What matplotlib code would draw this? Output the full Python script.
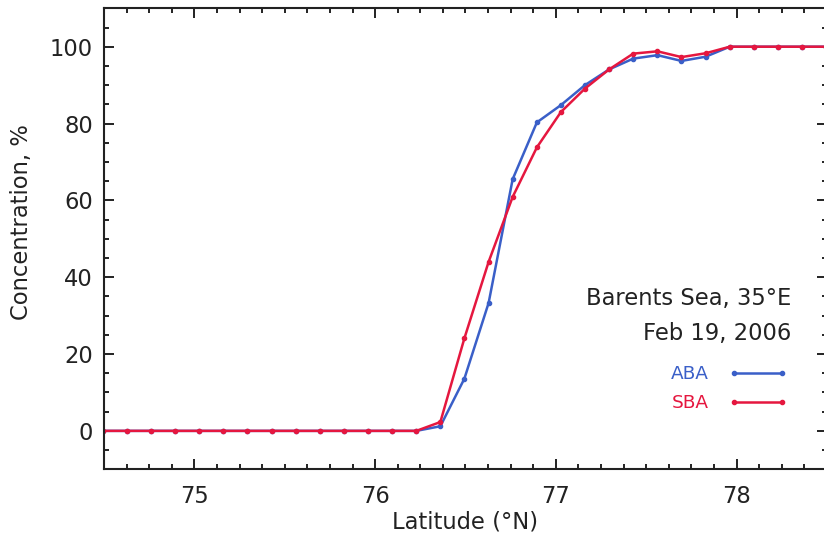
import matplotlib
matplotlib.use("Agg")
import matplotlib.pyplot as plt
from matplotlib.ticker import MultipleLocator

latitude = [74.493, 74.627, 74.760, 74.893, 75.027, 75.160, 75.294, 75.427,
            75.560, 75.694, 75.827, 75.961, 76.094, 76.228, 76.361, 76.494,
            76.628, 76.761, 76.895, 77.028, 77.161, 77.295, 77.428, 77.562,
            77.695, 77.829, 77.962, 78.095, 78.229, 78.362, 78.496]
aba = [0, 0, 0, 0, 0, 0, 0, 0, 0, 0, 0, 0, 0, 0, 1.2, 13.6,
       33.3, 65.5, 80.3, 84.8, 90.0, 94.1, 96.9, 97.8, 96.3, 97.4,
       100, 100, 100, 100, 100]
sba = [0, 0, 0, 0, 0, 0, 0, 0, 0, 0, 0, 0, 0, 0, 2.3, 24.1,
       44.0, 60.9, 73.8, 83.0, 89.1, 94.1, 98.2, 98.8, 97.3, 98.3,
       100, 100, 100, 100, 100]
series_labels = ["ABA", "SBA"]
series_colors = ["#3a5fc8", "#e5173f"]
x_ticks = [75, 76, 77, 78]
y_ticks = [0, 20, 40, 60, 80, 100]

plt.rcParams['font.family'] = ['DejaVu Sans']
fig = plt.figure(figsize=(8.24, 5.46), dpi=100)
ax = fig.add_axes([0.1262, 0.1405, 0.8774, 0.8443])

for ys, lab, col in zip([aba, sba], series_labels, series_colors):
    ax.plot(latitude, ys, color=col, lw=1.8, marker='o', ms=3.0,
            label=lab, clip_on=True)

ax.set_xlim(74.5, 78.5)
ax.set_ylim(-10, 110)
ax.set_xticks(x_ticks)
ax.set_yticks(y_ticks)
ax.xaxis.set_minor_locator(MultipleLocator(0.125))
ax.yaxis.set_minor_locator(MultipleLocator(5))
ax.tick_params(which='both', direction='in', top=True, right=True,
               width=1.4, color='#222222', labelsize=16.3, labelcolor='#222222')
ax.tick_params(which='major', length=7.5)
ax.tick_params(axis='x', which='major', pad=11)
ax.tick_params(axis='y', which='major', pad=8)
ax.tick_params(which='minor', length=3.8)
for s in ax.spines.values():
    s.set_linewidth(1.5)
    s.set_color('#222222')

ax.set_xlabel("Latitude (°N)", fontsize=16.3, color='#222222', labelpad=2)
ax.set_ylabel("Concentration, %", fontsize=16.3, color='#222222')
ax.yaxis.set_label_coords(-0.098, 0.536)

ax.text(0.951, 0.3564, "Barents Sea, 35°E", transform=ax.transAxes,
        ha='right', va='baseline', fontsize=16.3, color='#222222')
ax.text(0.951, 0.2805, "Feb 19, 2006", transform=ax.transAxes,
        ha='right', va='baseline', fontsize=16.3, color='#222222')

leg = ax.legend(loc='center right', bbox_to_anchor=(0.9454, 0.1748),
                frameon=False, markerfirst=False, numpoints=2,
                borderaxespad=0, borderpad=0,
                handlelength=3.2, handletextpad=1.08, labelspacing=0.58,
                fontsize=13.3, labelcolor='linecolor')

fig.savefig("out.png", dpi=100)
